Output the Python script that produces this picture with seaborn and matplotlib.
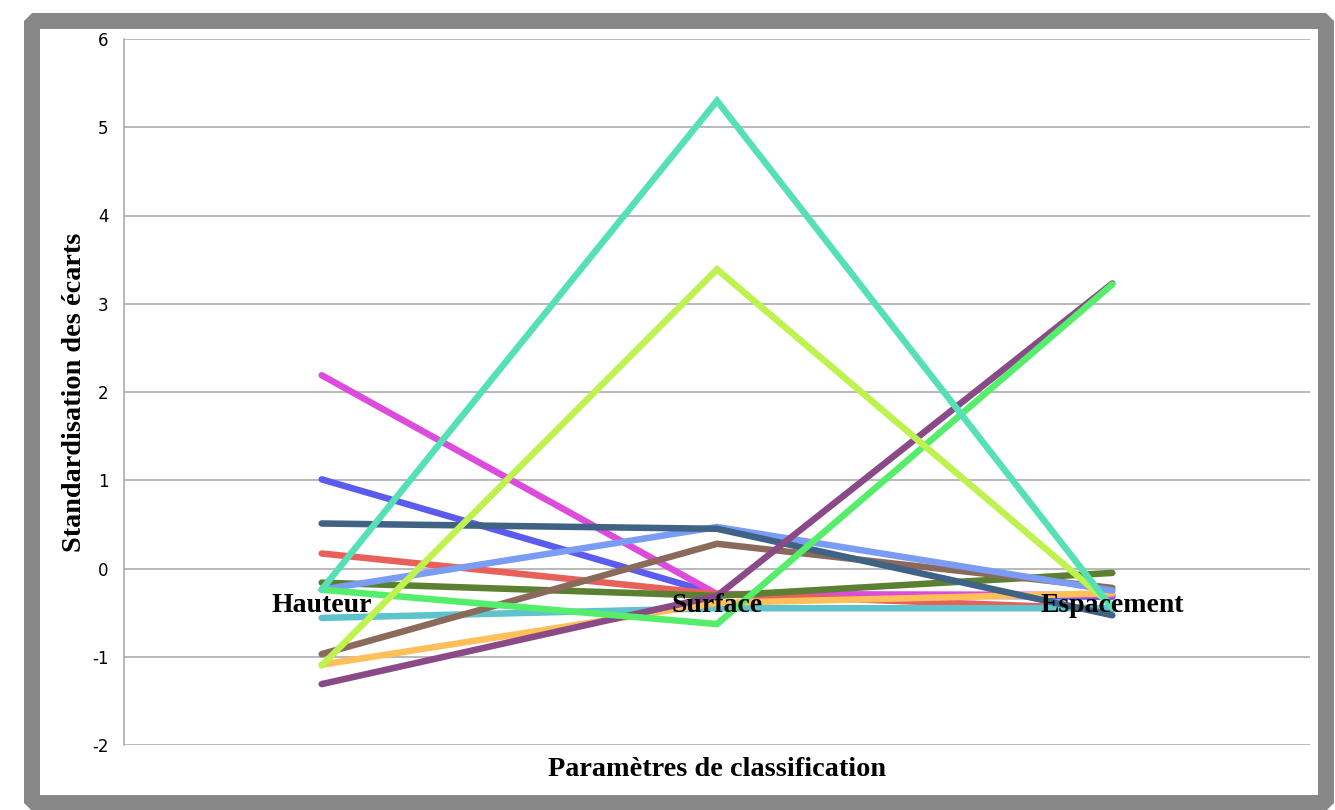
import matplotlib
matplotlib.use("Agg")
import matplotlib.pyplot as plt
from matplotlib.patches import Rectangle
import numpy as np
import pandas as pd
import seaborn as sns

# ---- data ----
categories = ["Hauteur", "Surface", "Espacement"]
series_names = ["S1", "S2", "S3", "S4", "S5", "S6", "S7",
                "S8", "S9", "S10", "S11", "S12", "S13"]
s_blue = [1.01, -0.29, -0.32]
s_magenta = [2.19, -0.29, -0.30]
s_red = [0.17, -0.29, -0.46]
s_olive = [-0.16, -0.31, -0.05]
s_cyan = [-0.56, -0.45, -0.45]
s_orange = [-1.09, -0.39, -0.28]
s_brown = [-0.97, 0.28, -0.22]
s_lightblue = [-0.24, 0.47, -0.25]
s_slate = [0.51, 0.45, -0.53]
s_purple = [-1.31, -0.31, 3.23]
s_green = [-0.24, -0.63, 3.22]
s_yellowgreen = [-1.10, 3.39, -0.42]
s_teal = [-0.24, 5.30, -0.45]
series_values = [s_blue, s_magenta, s_red, s_olive, s_cyan, s_orange, s_brown,
                 s_lightblue, s_slate, s_purple, s_green, s_yellowgreen, s_teal]
colors = ["#5b5bf0", "#dd4bdd", "#e8605a", "#5b8032", "#5ec3cc", "#ffc05a",
          "#8a6a5a", "#7b9cf5", "#3f6285", "#8a4a88", "#55ee6a", "#bdf24f",
          "#55e0b5"]
y_ticks = [-2, -1, 0, 1, 2, 3, 4, 5, 6]

rows = []
for name, vals in zip(series_names, series_values):
    for c, v in zip(categories, vals):
        rows.append({"Paramètre": c, "Valeur": v, "Série": name})
df = pd.DataFrame(rows)

sns.set_theme(style="whitegrid")
plt.rcParams['font.family'] = ['DejaVu Sans']

W, H = 1335, 810
fig = plt.figure(figsize=(W / 100, H / 100), dpi=100)
fig.patch.set_facecolor("white")
ax = fig.add_axes([124 / W, 1 - 745 / H, 1186 / W, 706 / H])
ax.set_facecolor("white")

sns.lineplot(data=df, x="Paramètre", y="Valeur", hue="Série",
             hue_order=series_names, palette=dict(zip(series_names, colors)),
             linewidth=4.7, sort=False, legend=False, errorbar=None, ax=ax,
             solid_capstyle="round", solid_joinstyle="miter")

ax.set_xlim(-0.5, 2.5)
ax.set_ylim(-2, 6)
ax.set_yticks(y_ticks)
ax.set_yticklabels([str(t) for t in y_ticks])

ax.xaxis.grid(False)
ax.yaxis.grid(True, color="#a6a6a6", linewidth=1.1)
for s in ["top", "right"]:
    ax.spines[s].set_visible(False)
ax.spines["left"].set_color("#a6a6a6")
ax.spines["left"].set_linewidth(1.1)
ax.spines["bottom"].set_position(("data", 0))
ax.spines["bottom"].set_visible(False)

ax.tick_params(axis="y", length=0, pad=11, labelsize=12, labelcolor="black")
ax.tick_params(axis="x", length=0, pad=18)
for lab in ax.get_xticklabels():
    lab.set_fontfamily("Liberation Serif")
    lab.set_fontweight("bold")
    lab.set_fontsize(20)
    lab.set_color("black")
ax.xaxis.set_zorder(5)

ax.set_xlabel("Paramètres de classification", fontsize=20.3, fontweight="bold",
              family="Liberation Serif", color="black")
ax.xaxis.set_label_coords(0.5, -0.017)
ax.set_ylabel("Standardisation des écarts", fontsize=20.3, fontweight="bold",
              family="Liberation Serif", color="black")
ax.yaxis.set_label_coords(-0.031, 0.5)

# outer frame
frame = Rectangle((31.5 / W, 1 - 803 / H), (1325.5 - 31.5) / W, (803 - 20.5) / H,
                  transform=fig.transFigure, facecolor="none", edgecolor="#878787",
                  linewidth=11.5, joinstyle="bevel")
fig.patches.append(frame)

fig.savefig("out.png", dpi=100)
